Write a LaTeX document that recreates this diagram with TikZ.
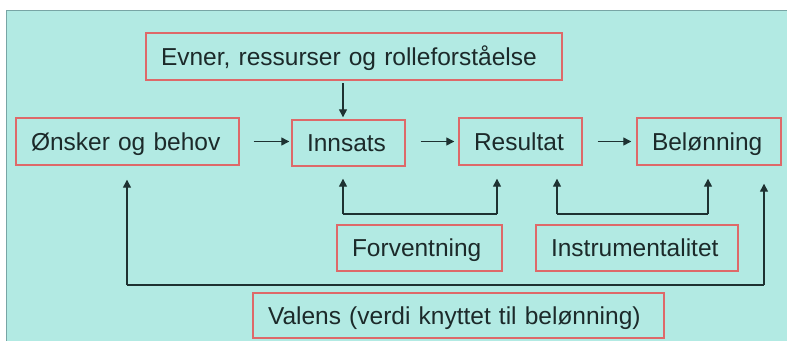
\documentclass[tikz,border=0pt]{standalone}
\usepackage{fontspec}
\setmainfont{Liberation Sans}
\usetikzlibrary{arrows.meta}
\definecolor{bgteal}{RGB}{178,234,227}
\definecolor{bgedge}{RGB}{120,165,165}
\definecolor{boxred}{RGB}{222,105,105}
\definecolor{txt}{RGB}{28,42,42}
\definecolor{arrcol}{RGB}{30,50,50}
\tikzset{
  box/.style={draw=boxred, line width=1.4pt, fill=bgteal, text=txt,
    font=\fontsize{24.5}{27}\selectfont, align=left, inner xsep=15pt, inner ysep=0pt,
    text height=17.5pt, text depth=0pt, minimum height=#1},
  box/.default=47pt,
  link/.style={draw=arrcol, line width=1.3pt},
  arr/.style={link, -{Triangle[width=8pt,length=8pt]}},
}
\begin{document}
\begin{tikzpicture}[x=1pt,y=-1pt]
\useasboundingbox (0,0) rectangle (787,340);
\fill[white] (0,0) rectangle (787,340);
\filldraw[fill=bgteal, draw=bgedge, line width=1pt] (6.5,10.5) rectangle (790,345);

\node[box, text width=386pt] (evner) at (354,56.5) {Evner, ressurser og rolleforståelse};
\node[box, text width=193pt] (onsker) at (127.5,141.5) {Ønsker og behov};
\node[box=46pt, text width=83pt] (innsats) at (348.5,143) {Innsats};
\node[box, text width=93pt] (resultat) at (520.5,141.5) {Resultat};
\node[box, text width=114pt] (belonning) at (709,141.5) {Belønning};
\node[box=46pt, text width=135pt] (forv) at (419.5,248) {Forventning};
\node[box=46pt, text width=172pt] (instr) at (637,248) {Instrumentalitet};
\node[box=45pt, text width=381pt] (valens) at (458.5,315.5) {Valens (verdi knyttet til belønning)};

% horizontal flow
\draw[arr, shorten <=14pt, shorten >=2pt] (onsker.east) -- (innsats.west |- onsker.east);
\draw[arr, shorten <=15pt, shorten >=4pt] (innsats.east |- resultat.west) -- (resultat.west);
\draw[arr, shorten <=15pt, shorten >=5pt] (resultat.east) -- (belonning.west);

% Evner -> Innsats
\coordinate (ev) at (343,80);
\draw[arr, shorten <=3pt, shorten >=2pt] (ev) -- (innsats.north -| ev);

% Forventning bracket
\coordinate (fa) at (343,214);
\coordinate (fb) at (497,214);
\draw[link] (fa) -- (fb);
\draw[arr, shorten >=12pt] (fa) -- (innsats.south -| fa);
\draw[arr, shorten >=13pt] (fb) -- (resultat.south -| fb);

% Instrumentalitet bracket
\coordinate (ia) at (557,214);
\coordinate (ib) at (708,214);
\draw[link] (ia) -- (ib);
\draw[arr, shorten >=13pt] (ia) -- (resultat.south -| ia);
\draw[arr, shorten >=13pt] (ib) -- (belonning.south -| ib);

% Valens line
\coordinate (va) at (127,285);
\coordinate (vb) at (764,285);
\draw[link] (va) -- (vb);
\draw[arr, shorten >=14pt] (va) -- (onsker.south -| va);
\draw[arr, shorten >=18pt] (vb) -- (belonning.south -| vb);
\end{tikzpicture}
\end{document}
